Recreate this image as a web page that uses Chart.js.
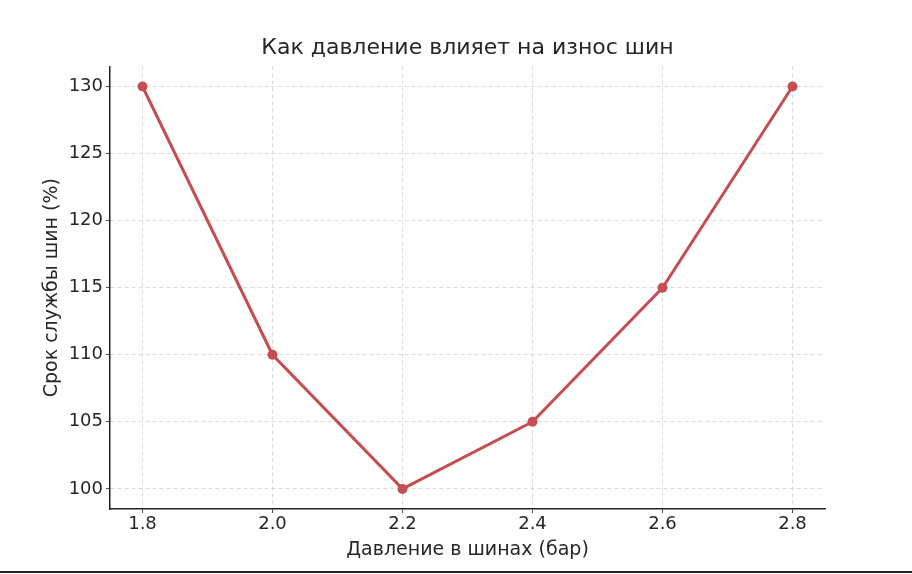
<!DOCTYPE html>
<html>
<head>
<meta charset="utf-8">
<script src="https://cdn.jsdelivr.net/npm/chart.js@4"></script>
<style>
  html, body { margin: 0; padding: 0; background: #fff; }
  #wrap { width: 912px; height: 571px; border-bottom: 2px solid #222; }
</style>
</head>
<body>
<div id="wrap"><canvas id="chart" width="912" height="571"></canvas></div>
<script>
const pressures = [1.8, 2.0, 2.2, 2.4, 2.6, 2.8];
const lifetime = [130, 110, 100, 105, 115, 130];
const xTicks = [1.8, 2.0, 2.2, 2.4, 2.6, 2.8];
const yTicks = [100, 105, 110, 115, 120, 125, 130];

const textColor = '#262626';
const tickFont = { family: 'DejaVu Sans', size: 18 };
const labelFont = { family: 'DejaVu Sans', size: 19 };

const ctx = document.getElementById('chart').getContext('2d');

new Chart(ctx, {
    type: 'line',
    data: {
        datasets: [{
            data: pressures.map((p, i) => ({ x: p, y: lifetime[i] })),
            borderColor: '#c44e52',
            backgroundColor: '#c44e52',
            borderWidth: 3,
            pointRadius: 5,
            pointBorderWidth: 0,
            tension: 0,
            fill: false
        }]
    },
    options: {
        responsive: false,
        animation: false,
        layout: { padding: { left: 37, right: 87, top: 0, bottom: 6 } },
        plugins: {
            legend: { display: false },
            tooltip: { enabled: false },
            title: {
                display: true,
                fullSize: false, // centre sur la zone du graphique
                text: 'Как давление влияет на износ шин',
                color: textColor,
                font: { family: 'DejaVu Sans', size: 22, weight: 'normal' },
                padding: { top: 35, bottom: 5 }
            }
        },
        scales: {
            x: {
                type: 'linear',
                min: 1.75,
                max: 2.85,
                afterBuildTicks: s => { s.ticks = xTicks.map(v => ({ value: v })); },
                afterFit: s => { s.height = 56; },
                border: { display: true, color: '#222', width: 1.5, dash: [4, 3] },
                grid: {
                    color: '#d0d0d0', lineWidth: 0.8,
                    tickLength: 4, tickColor: '#222', tickBorderDash: []
                },
                ticks: { color: textColor, font: tickFont, padding: 1, callback: v => v.toFixed(1) },
                title: { display: true, text: 'Давление в шинах (бар)', color: textColor, font: labelFont }
            },
            y: {
                min: 98.5,
                max: 131.5,
                afterBuildTicks: s => { s.ticks = yTicks.map(v => ({ value: v })); },
                afterFit: s => { s.width = 73; },
                border: { display: true, color: '#222', width: 1.5, dash: [4, 3] },
                grid: {
                    color: '#d0d0d0', lineWidth: 0.8,
                    tickLength: 4, tickColor: '#222', tickBorderDash: []
                },
                ticks: { color: textColor, font: tickFont, padding: 3 },
                title: { display: true, text: 'Срок службы шин (%)', color: textColor, font: labelFont }
            }
        }
    }
});
</script>
</body>
</html>
